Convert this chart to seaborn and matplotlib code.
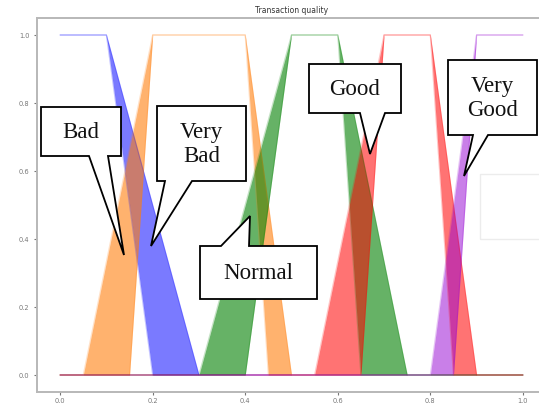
import numpy as np
import matplotlib
matplotlib.use("Agg")
import matplotlib.pyplot as plt
import seaborn as sns
from matplotlib.patches import Polygon, Rectangle

# ---- data: interval (lower/upper) trapezoidal membership functions ----
names = ["Bad", "Very Bad", "Normal", "Good", "Very Good"]
colors = ["blue", "tab:orange", "green", "red", "darkviolet"]
upper_x = [[0.0, 0.1, 0.3, 1.0],
           [0.0, 0.05, 0.2, 0.4, 0.5, 1.0],
           [0.0, 0.3, 0.5, 0.6, 0.75, 1.0],
           [0.0, 0.55, 0.7, 0.8, 0.9, 1.0],
           [0.0, 0.8, 0.9, 1.0]]
upper_y = [[1, 1, 0, 0],
           [0, 0, 1, 1, 0, 0],
           [0, 0, 1, 1, 0, 0],
           [0, 0, 1, 1, 0, 0],
           [0, 0, 1, 1]]
lower_x = [[0.0, 0.1, 0.2, 1.0],
           [0.0, 0.15, 0.2, 0.4, 0.45, 1.0],
           [0.0, 0.4, 0.5, 0.6, 0.65, 1.0],
           [0.0, 0.65, 0.7, 0.8, 0.85, 1.0],
           [0.0, 0.85, 0.9, 1.0]]
lower_y = upper_y
alphas = [0.52, 0.6, 0.6, 0.55, 0.5]
x_ticks = [0.0, 0.2, 0.4, 0.6, 0.8, 1.0]
y_ticks = [0.0, 0.2, 0.4, 0.6, 0.8, 1.0]
title = "Transaction quality"

sns.set_theme(style="white")

W, H = 539, 406
fig = plt.figure(figsize=(W / 100, H / 100), dpi=100)
ax_left, ax_right, ax_top, ax_bot = 37, 546, 19, 393
ax = fig.add_axes([ax_left / W, 1 - ax_bot / H, (ax_right - ax_left) / W, (ax_bot - ax_top) / H])

for i in range(len(names)):
    grid = np.union1d(upper_x[i], lower_x[i])
    up = np.interp(grid, upper_x[i], upper_y[i])
    lo = np.interp(grid, lower_x[i], lower_y[i])
    ax.fill_between(grid, lo, up, color=colors[i], alpha=alphas[i], lw=0)
    sns.lineplot(x=upper_x[i], y=upper_y[i], ax=ax, color=colors[i], lw=0.9,
                 alpha=0.22, estimator=None, sort=False)
    sns.lineplot(x=lower_x[i], y=lower_y[i], ax=ax, color=colors[i], lw=0.9,
                 alpha=0.22, estimator=None, sort=False)

ax.set_xlim(-0.05, 1.05)
ax.set_ylim(-0.05, 1.05)
ax.set_xticks(x_ticks)
ax.set_yticks(y_ticks)
ax.set_xticklabels([f"{v:.1f}" for v in x_ticks])
ax.set_yticklabels([f"{v:.1f}" for v in y_ticks])
ax.tick_params(axis="both", labelsize=4.8, colors="#777777", length=2.5, width=0.8,
               direction="out", pad=1.2, left=True, bottom=True)
ax.tick_params(axis="y", pad=3)
for s in ax.spines.values():
    s.set_color("#b8b8b8")
    s.set_linewidth(1.4)
ax.set_title(title, fontsize=5.5, color="#333333", pad=4)

# faint leftover legend frame at the right
fig.patches.append(Rectangle((480 / W, 1 - 240 / H), 70 / W, 65 / H, transform=fig.transFigure,
                             fill=False, ec="#ececec", lw=1.0))

# ---- speech-bubble callouts (pixel positions in the figure) ----
def px(x, y):
    return (x / W, 1 - y / H)

def callout(text, box, tail, side):
    x0, y0, x1, y1 = box
    xa, xb, tx, ty = tail
    if side == "bottom":
        pts = [(x0, y0), (x1, y0), (x1, y1), (xb, y1), (tx, ty), (xa, y1), (x0, y1)]
    else:
        pts = [(x0, y0), (xa, y0), (tx, ty), (xb, y0), (x1, y0), (x1, y1), (x0, y1)]
    poly = Polygon([px(*p) for p in pts], closed=True, transform=fig.transFigure,
                   fc="white", ec="black", lw=1.3, zorder=10, joinstyle="miter")
    fig.patches.append(poly)
    cx, cy = px((x0 + x1) / 2, (y0 + y1) / 2)
    fig.text(cx, cy, text, ha="center", va="center", fontsize=16.5,
             family="Liberation Serif", color="#111111", zorder=11, linespacing=1.15)

callout("Bad", (41, 108, 121, 157), (89, 108, 124, 256), "bottom")
callout("Very\nBad", (157, 107, 246, 182), (165, 192, 151, 247), "bottom")
callout("Normal", (200, 247, 317, 300), (221, 249, 250, 217), "top")
callout("Good", (309, 65, 401, 114), (360, 385, 370, 155), "bottom")
callout("Very\nGood", (448, 61, 537, 136), (473, 488, 464, 177), "bottom")

fig.savefig("out.png", dpi=100)
